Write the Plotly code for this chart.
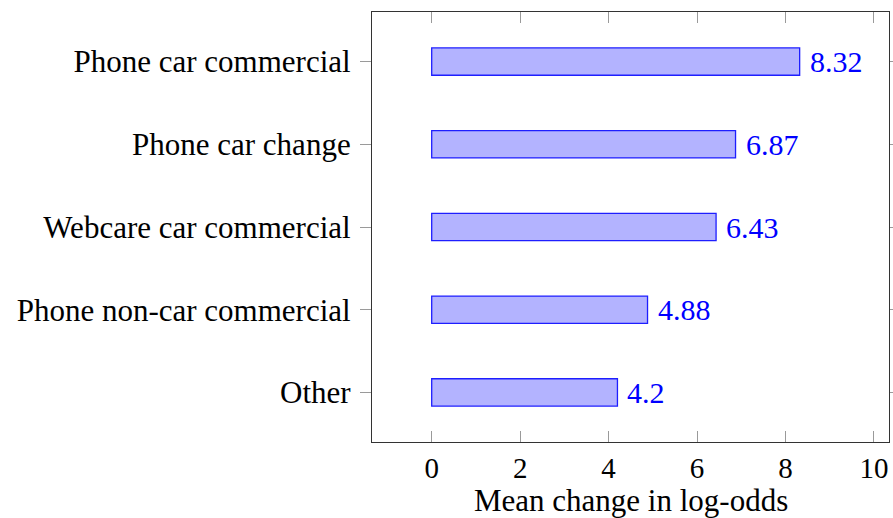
import plotly.graph_objects as go

# Categories listed bottom to top
categories = ["Other", "Phone non-car commercial", "Webcare car commercial",
              "Phone car change", "Phone car commercial"]
values = [4.2, 4.88, 6.43, 6.87, 8.32]
value_labels = ["4.2", "4.88", "6.43", "6.87", "8.32"]
x_ticks = [0, 2, 4, 6, 8, 10]
x_title = "Mean change in log-odds"

FONT = "Liberation Serif"
positions = list(range(len(categories)))

fig = go.Figure()
fig.add_trace(go.Bar(
    x=values,
    y=positions,
    orientation="h",
    width=0.33,
    marker=dict(color="rgb(179,179,255)", line=dict(color="rgb(30,30,255)", width=1.3)),
    hoverinfo="skip",
))

# Value labels to the right of each bar
for p, v, t in zip(positions, values, value_labels):
    fig.add_annotation(x=v, y=p, text=t, showarrow=False, xanchor="left",
                       yanchor="middle", xshift=8,
                       font=dict(family=FONT, size=30, color="rgb(0,0,255)"))

# Horizontal axis title, placed under the tick labels
fig.add_annotation(x=0.5, y=0, xref="paper", yref="paper", text=x_title,
                   showarrow=False, xanchor="center", yanchor="middle", yshift=-58,
                   font=dict(family=FONT, size=31, color="black"))

fig.update_layout(
    width=893, height=518,
    margin=dict(l=372, r=4, t=12, b=76),
    plot_bgcolor="white", paper_bgcolor="white",
    showlegend=False,
    font=dict(family=FONT, size=30, color="black"),
    xaxis=dict(
        range=[-1.35, 10.34], tickvals=x_ticks, ticktext=[str(v) for v in x_ticks],
        ticks="inside", ticklen=11, tickcolor="#9a9a9a", tickwidth=1,
        showline=True, linecolor="#333333", linewidth=1.3, mirror="ticks",
        showgrid=False, zeroline=False, ticklabelstandoff=0, automargin=False,
        tickfont=dict(family=FONT, size=29),
    ),
    yaxis=dict(
        range=[-0.6, 4.6], tickvals=positions, ticktext=categories,
        ticks="outside", ticklen=11, tickcolor="#9a9a9a", tickwidth=1,
        showline=True, linecolor="#333333", linewidth=1.3, mirror="ticks",
        showgrid=False, zeroline=False, ticklabelstandoff=3, automargin=False,
        tickfont=dict(family=FONT, size=31),
    ),
)

fig.write_html("out.html")
